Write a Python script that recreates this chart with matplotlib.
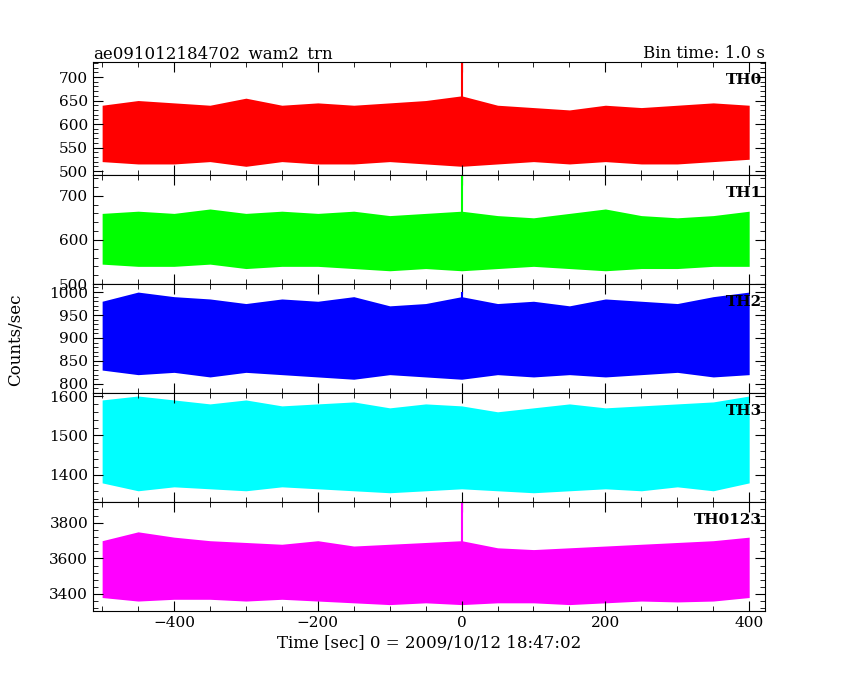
import matplotlib
matplotlib.use("Agg")
import matplotlib.pyplot as plt
from matplotlib.ticker import AutoMinorLocator

# envelope of the dense 1-s light curves, read every 50 s
t = [-500, -450, -400, -350, -300, -250, -200, -150, -100, -50, 0,
     50, 100, 150, 200, 250, 300, 350, 400]
th0_hi = [640, 650, 645, 640, 655, 640, 645, 640, 645, 650, 660, 640, 635, 630, 640, 635, 640, 645, 640]
th0_lo = [520, 515, 515, 520, 510, 520, 515, 515, 520, 515, 510, 515, 520, 515, 520, 515, 515, 520, 525]
th1_hi = [660, 665, 660, 670, 660, 665, 660, 665, 655, 660, 665, 655, 650, 660, 670, 655, 650, 655, 665]
th1_lo = [545, 540, 540, 545, 535, 540, 540, 535, 530, 535, 530, 535, 540, 535, 530, 535, 535, 540, 540]
th2_hi = [980, 1000, 990, 985, 975, 985, 980, 990, 970, 975, 990, 975, 980, 970, 985, 980, 975, 990, 1000]
th2_lo = [830, 820, 825, 815, 825, 820, 815, 810, 820, 815, 810, 820, 815, 820, 815, 820, 825, 815, 820]
th3_hi = [1590, 1600, 1590, 1580, 1590, 1575, 1580, 1585, 1570, 1580, 1575, 1560, 1570, 1580, 1570, 1575, 1580, 1585, 1600]
th3_lo = [1380, 1360, 1370, 1365, 1360, 1370, 1365, 1360, 1355, 1360, 1365, 1360, 1355, 1360, 1365, 1360, 1370, 1360, 1380]
tha_hi = [3700, 3750, 3720, 3700, 3690, 3680, 3700, 3670, 3680, 3690, 3700, 3660, 3650, 3660, 3670, 3680, 3690, 3700, 3720]
tha_lo = [3380, 3360, 3370, 3370, 3360, 3370, 3360, 3350, 3340, 3350, 3340, 3350, 3350, 3340, 3350, 3360, 3355, 3360, 3380]
spike_t = 0
spikes = [735, 750, 1000, None, 3920]

names = ["TH0", "TH1", "TH2", "TH3", "TH0123"]
colors = ["#ff0000", "#00ff00", "#0000ff", "#00ffff", "#ff00ff"]
ylims = [(491.5, 732), (515, 747), (780, 1017.6), (1331.6, 1607.6), (3304, 3918)]
yticks = [[500, 550, 600, 650, 700], [500, 600, 700], [800, 850, 900, 950, 1000],
          [1400, 1500, 1600], [3400, 3600, 3800]]
his = [th0_hi, th1_hi, th2_hi, th3_hi, tha_hi]
los = [th0_lo, th1_lo, th2_lo, th3_lo, tha_lo]

plt.rcParams["font.family"] = "DejaVu Serif"
fig = plt.figure(figsize=(8.5, 6.8), dpi=100)
left, right = 93 / 850, 765 / 850
tops = [62, 175, 284, 393, 502, 611]
axes = []
for i in range(5):
    y0 = 1 - tops[i + 1] / 680
    h = (tops[i + 1] - tops[i]) / 680
    ax = fig.add_axes([left, y0, right - left, h])
    ax.fill_between(t, los[i], his[i], color=colors[i], lw=0)
    if spikes[i] is not None:
        ax.vlines(spike_t, (los[i][10] + his[i][10]) / 2, spikes[i], color=colors[i], lw=1.5)
    ax.set_xlim(-512.7, 422)
    ax.set_ylim(*ylims[i])
    ax.set_yticks(yticks[i])
    ax.xaxis.set_minor_locator(AutoMinorLocator(4))
    ax.yaxis.set_minor_locator(AutoMinorLocator(5))
    ax.tick_params(which="both", direction="in", top=True, right=True, labelsize=11)
    ax.tick_params(which="major", length=7)
    ax.tick_params(which="minor", length=3.5)
    ax.text(0.995, 0.9, names[i], transform=ax.transAxes, ha="right", va="top",
            fontsize=11, fontweight="bold")
    if i < 4:
        ax.tick_params(labelbottom=False)
    axes.append(ax)

axes[-1].set_xticks([-400, -200, 0, 200, 400])
axes[-1].set_xlabel("Time [sec] 0 = 2009/10/12 18:47:02", fontsize=12)
axes[0].set_title("ae091012184702_wam2_trn", loc="left", fontsize=12, pad=3)
axes[0].set_title("Bin time: 1.0 s", loc="right", fontsize=12, pad=3)
fig.text(0.018, 0.5, "Counts/sec", rotation=90, va="center", ha="center", fontsize=12)
fig.savefig("out.png", dpi=100)
